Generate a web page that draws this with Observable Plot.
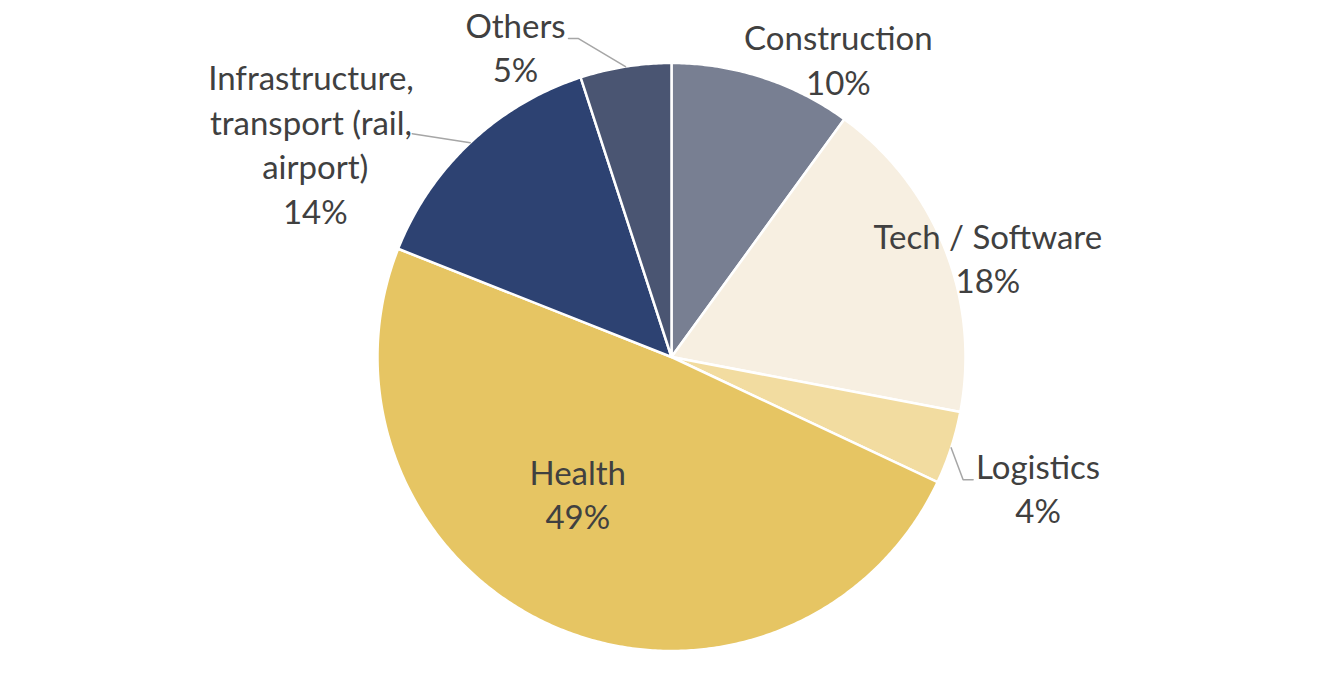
<!DOCTYPE html>
<html>
<head>
<meta charset="utf-8">
<script src="https://cdn.jsdelivr.net/npm/d3@7"></script>
<script src="https://cdn.jsdelivr.net/npm/@observablehq/plot@0.6"></script>
<style>
  html, body { margin: 0; padding: 0; background: #ffffff; }
  #chart svg { display: block; }
</style>
</head>
<body>
<div id="chart"></div>
<script>
// Sector split of the portfolio, clockwise from 12 o'clock
const sectors = ["Construction", "Tech / Software", "Logistics", "Health", "Infrastructure, transport (rail, airport)", "Others"];
const shares = [10, 18, 4, 49, 14, 5];
// Wrapped label text (non-breaking space keeps the trailing gap after commas)
const labelNames = ["Construction", "Tech / Software", "Logistics", "Health", "Infrastructure,\u00a0\ntransport (rail,\u00a0\nairport)", "Others"];

const palette = ["#787f92", "#f7efe1", "#f2dca0", "#e6c563", "#2d4272", "#4a5572"];

const W = 1342, H = 684;
const CX = 671, CY = 356.5, R = 294; // pie centre and radius in pixels

// Label placement: offsets (px) from the outer edge at each slice's mid-angle
const placement = {
  "Construction": {label: [76, -19]},
  "Tech / Software": {label: [43, 8]},
  "Logistics": {label: [87, 39], leader: [[12, 32], [22, 32]]},
  "Health": {label: [23, -134]},
  "Infrastructure, transport (rail, airport)": {label: [-155, 0], leader: [[-58, -9]]},
  "Others": {label: [-110, -21], leader: [[-47, -28], [-57, -28]]}
};

const total = d3.sum(shares);
let cum = 0;
const slices = sectors.map((name, i) => {
  const a0 = (cum / total) * 2 * Math.PI;
  cum += shares[i];
  const a1 = (cum / total) * 2 * Math.PI;
  return {name, share: shares[i], a0, a1, mid: (a0 + a1) / 2, text: labelNames[i] + "\n" + shares[i] + "%"};
});

// Wedge outlines in unit-radius coordinates (angle measured clockwise from top)
const wedgePoints = slices.flatMap((s) => {
  const n = Math.max(2, Math.ceil((s.a1 - s.a0) * 180 / Math.PI * 2));
  const pts = [{name: s.name, x: 0, y: 0}];
  for (let k = 0; k <= n; ++k) {
    const a = s.a0 + (s.a1 - s.a0) * k / n;
    pts.push({name: s.name, x: Math.sin(a), y: Math.cos(a)});
  }
  pts.push({name: s.name, x: 0, y: 0});
  return pts;
});

const edge = (s) => [Math.sin(s.mid), Math.cos(s.mid)];
const shift = ([x, y], [dx, dy]) => [x + dx / R, y - dy / R];

const labels = slices.map((s) => {
  const [x, y] = shift(edge(s), placement[s.name].label);
  return {...s, x, y};
});

const leaders = slices.filter((s) => placement[s.name].leader).flatMap((s) => {
  const e = edge(s);
  return [e, ...placement[s.name].leader.map((o) => shift(e, o))].map(([x, y]) => ({name: s.name, x, y}));
});

const chart = Plot.plot({
  width: W,
  height: H,
  margin: 0,
  style: {background: "#ffffff"},
  x: {domain: [-CX / R, (W - CX) / R], axis: null},
  y: {domain: [-(H - CY) / R, CY / R], axis: null},
  color: {domain: sectors, range: palette},
  marks: [
    Plot.line(wedgePoints, {x: "x", y: "y", z: "name", fill: "name", stroke: "#ffffff", strokeWidth: 2.5, strokeLinejoin: "round"}),
    Plot.line(leaders, {x: "x", y: "y", z: "name", stroke: "#a6a6a6", strokeWidth: 1.5}),
    Plot.text(labels, {
      x: "x", y: "y", text: "text",
      fill: "#404040",
      fontFamily: "Lato",
      fontSize: 33,
      lineHeight: 1.35,
      textAnchor: "middle",
      lineAnchor: "middle"
    })
  ]
});

document.getElementById("chart").append(chart);
</script>
</body>
</html>
